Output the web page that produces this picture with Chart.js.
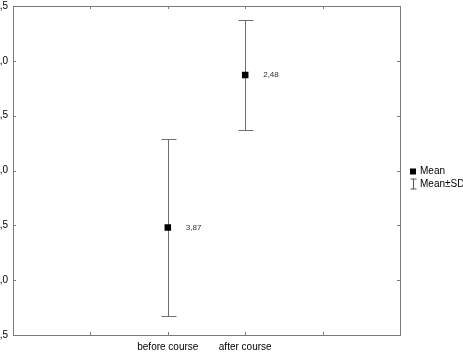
<!DOCTYPE html>
<html>
<head>
<meta charset="utf-8">
<script src="https://cdn.jsdelivr.net/npm/chart.js@4.4.1/dist/chart.umd.min.js"></script>
<style>
  html, body { margin: 0; padding: 0; background: #fff; overflow: hidden; }
  #wrap { position: absolute; left: -12px; top: 0; width: 475px; height: 357px; }
</style>
</head>
<body>
<div id="wrap"><canvas id="c" width="475" height="357"></canvas></div>
<script>
// ---- data ----
const xSlots = ['', '', 'before course', 'after course', '', ''];
const categories = ['before course', 'after course'];
const means = [2.48, 3.87];
const sds = [0.81, 0.50];
const pointLabels = ['3,87', '2,48'];
const yMin = 1.5, yMax = 4.5, yStep = 0.5;
const legendItems = ['Mean', 'Mean\u00b1SD'];

const seriesData = xSlots.map(s => {
  const i = categories.indexOf(s);
  return i >= 0 ? means[i] : null;
});

const FONT = '"Liberation Sans", Arial, sans-serif';
const FRAME = '#7a7a7a';
const BAR = '#6e6e6e';

const decorations = {
  id: 'decorations',
  beforeDatasetsDraw(chart) {
    const ctx = chart.ctx;
    const a = chart.chartArea;
    const xs = chart.scales.x, ys = chart.scales.y;
    ctx.save();
    ctx.lineWidth = 1;
    // error bars
    ctx.strokeStyle = BAR;
    ctx.beginPath();
    categories.forEach((c, i) => {
      const x = Math.round(xs.getPixelForValue(xSlots.indexOf(c))) + 0.5;
      const yHi = Math.round(ys.getPixelForValue(means[i] + sds[i])) + 0.5;
      const yLo = Math.round(ys.getPixelForValue(means[i] - sds[i])) + 0.5;
      ctx.moveTo(x, yHi); ctx.lineTo(x, yLo);
      ctx.moveTo(x - 7, yHi); ctx.lineTo(x + 8, yHi);
      ctx.moveTo(x - 7, yLo); ctx.lineTo(x + 8, yLo);
    });
    ctx.stroke();
    ctx.restore();
  },
  afterDatasetsDraw(chart) {
    const ctx = chart.ctx;
    const a = chart.chartArea;
    const xs = chart.scales.x, ys = chart.scales.y;
    ctx.save();
    // frame
    ctx.strokeStyle = FRAME;
    ctx.lineWidth = 1;
    ctx.strokeRect(Math.round(a.left) + 0.5, Math.round(a.top) + 0.5,
                   Math.round(a.right - a.left), Math.round(a.bottom - a.top));
    // inner tick marks
    ctx.beginPath();
    ys.ticks.forEach(t => {
      const y = Math.round(ys.getPixelForValue(t.value)) + 0.5;
      ctx.moveTo(a.left, y); ctx.lineTo(a.left + 3, y);
      ctx.moveTo(a.right, y); ctx.lineTo(a.right - 3, y);
    });
    xSlots.forEach((s, i) => {
      const x = Math.round(xs.getPixelForValue(i)) + 0.5;
      ctx.moveTo(x, a.top); ctx.lineTo(x, a.top + 3);
      ctx.moveTo(x, a.bottom); ctx.lineTo(x, a.bottom - 3);
    });
    ctx.stroke();
    // value labels
    ctx.fillStyle = '#333';
    ctx.font = '8px ' + FONT;
    ctx.textAlign = 'left';
    ctx.textBaseline = 'middle';
    categories.forEach((c, i) => {
      const x = xs.getPixelForValue(xSlots.indexOf(c));
      const y = ys.getPixelForValue(means[i]);
      ctx.fillText(pointLabels[i], x + 18, y);
    });
    // legend
    const lx = a.right + 10, ly = (a.top + a.bottom) / 2 + 1;
    ctx.fillStyle = '#000';
    ctx.fillRect(lx, ly - 3, 6, 6);
    ctx.strokeStyle = '#555';
    ctx.beginPath();
    const bx = lx + 3.5;
    ctx.moveTo(bx - 3, ly + 7.5); ctx.lineTo(bx + 3, ly + 7.5);
    ctx.moveTo(bx, ly + 7.5); ctx.lineTo(bx, ly + 17.5);
    ctx.moveTo(bx - 3, ly + 17.5); ctx.lineTo(bx + 3, ly + 17.5);
    ctx.stroke();
    ctx.fillStyle = '#000';
    ctx.font = '10px ' + FONT;
    ctx.fillText(legendItems[0], lx + 10, ly);
    ctx.fillText(legendItems[1], lx + 10, ly + 12.5);
    ctx.restore();
  }
};

new Chart(document.getElementById('c'), {
  type: 'line',
  data: {
    labels: xSlots,
    datasets: [{
      data: seriesData,
      showLine: false,
      pointStyle: 'rect',
      pointRadius: 4.6,
      pointHoverRadius: 4.6,
      backgroundColor: '#000',
      borderColor: '#000',
      borderWidth: 0
    }]
  },
  options: {
    responsive: false,
    animation: false,
    events: [],
    layout: { padding: { top: 6, right: 63, left: 0, bottom: 0 } },
    plugins: { legend: { display: false }, tooltip: { enabled: false } },
    scales: {
      x: {
        type: 'category',
        offset: false,
        grid: { display: false, drawTicks: false },
        border: { display: false },
        ticks: {
          autoSkip: false, maxRotation: 0, padding: 6,
          color: '#000', font: { family: FONT, size: 10 }
        },
        afterFit(s) { s.height = 22; s.paddingLeft = 0; s.paddingRight = 0; }
      },
      y: {
        min: yMin, max: yMax,
        grid: { display: false, drawTicks: false },
        border: { display: false },
        ticks: {
          stepSize: yStep, padding: 5,
          color: '#000', font: { family: FONT, size: 10 },
          callback: v => v.toFixed(1).replace('.', ',')
        },
        afterFit(s) { s.width = 25; s.paddingTop = 0; s.paddingBottom = 0; }
      }
    }
  },
  plugins: [decorations]
});
</script>
</body>
</html>
